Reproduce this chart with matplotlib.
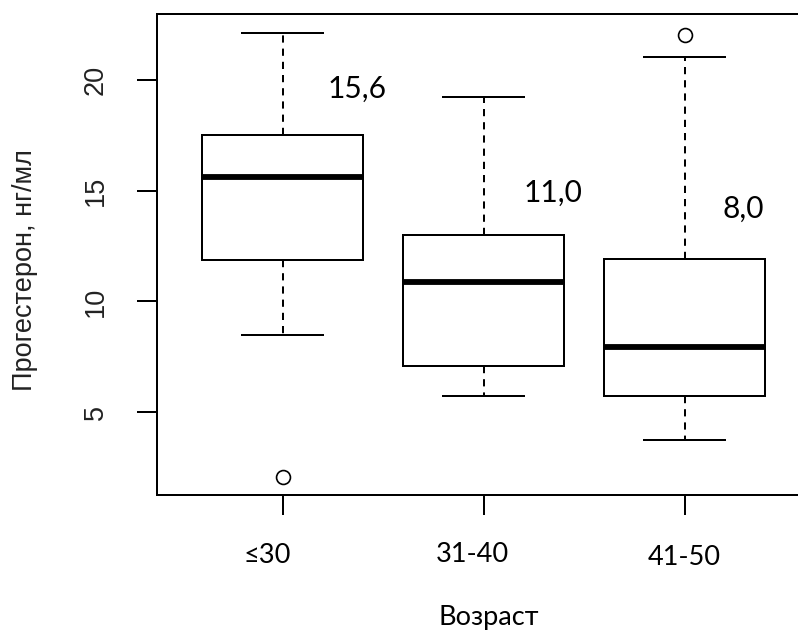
import matplotlib
matplotlib.use('Agg')
import matplotlib.pyplot as plt
from matplotlib.transforms import blended_transform_factory

# values (нг/мл)
groups = ['≤30', '31-40', '41-50']
whisker_low = [8.5, 5.75, 3.75]
q1 = [11.87, 7.08, 5.75]
medians = [15.6, 10.9, 7.95]
q3 = [17.52, 13.0, 11.9]
whisker_high = [22.1, 19.22, 21.05]
outliers = [[2.08], [], [22.03]]
median_labels = ['15,6', '11,0', '8,0']


def make_stats():
    stats = []
    for i in range(len(groups)):
        stats.append({
            'label': groups[i],
            'whislo': whisker_low[i],
            'q1': q1[i],
            'med': medians[i],
            'q3': q3[i],
            'whishi': whisker_high[i],
            'fliers': outliers[i],
        })
    return stats


def main():
    W, H = 798, 630
    fig = plt.figure(figsize=(W / 100, H / 100), dpi=100)
    px = 201  # pixels per group
    ax = fig.add_axes([157 / W, 1 - 495 / H, 3.25 * px / W, 481 / H])

    lw = 1.44
    ax.bxp(make_stats(), positions=[1, 2, 3], widths=0.8, capwidths=0.4,
           patch_artist=True, manage_ticks=False,
           boxprops=dict(facecolor='white', edgecolor='black', linewidth=lw),
           medianprops=dict(color='black', linewidth=4.2, solid_capstyle='butt'),
           whiskerprops=dict(color='black', linewidth=lw, linestyle=(0, (3.6, 3))),
           capprops=dict(color='black', linewidth=lw),
           flierprops=dict(marker='o', markersize=10, markerfacecolor='none',
                           markeredgecolor='black', markeredgewidth=1.2))

    ax.set_xlim(0.375, 3.625)
    ax.set_ylim(1.26, 22.98)
    for s in ax.spines.values():
        s.set_linewidth(lw)

    ax.set_yticks([5, 10, 15, 20])
    ax.set_yticklabels(['5', '10', '15', '20'], rotation=90, va='center', ha='center',
                       fontsize=19.5, family='Liberation Sans', color='#222222')
    ax.tick_params(axis='y', length=14.4, width=lw, pad=29.5)
    ax.set_xticks([1, 2, 3])
    ax.set_xticklabels(['', '', ''])
    ax.tick_params(axis='x', length=14.4, width=lw)

    # group labels and axis titles were placed by hand in the original
    trans = blended_transform_factory(ax.transData, fig.transFigure)
    label_shift = [-15, -11, 0]
    label_base = [563, 562, 565]
    for i, g in enumerate(groups):
        ax.text(i + 1 + label_shift[i] / px, 1 - label_base[i] / H, g, transform=trans,
                ha='center', va='baseline', fontsize=19.5, family='Lato', color='black')
    fig.text(489 / W, 1 - 625 / H, 'Возраст', ha='center', va='baseline',
             fontsize=19.5, family='Lato')
    fig.text(25 / W, 1 - 270 / H, 'Прогестерон, нг/мл', rotation=90, ha='center',
             va='center', fontsize=19.5, family='Liberation Sans', color='#222222')

    label_x = [1.368, 2.343, 3.294]
    label_y = [19.19, 14.49, 13.76]
    for i, t in enumerate(median_labels):
        ax.text(label_x[i], label_y[i], t, ha='center', va='baseline',
                fontsize=21.5, family='Lato', color='black')

    fig.savefig('out.png', dpi=100)


if __name__ == "__main__":
    main()
